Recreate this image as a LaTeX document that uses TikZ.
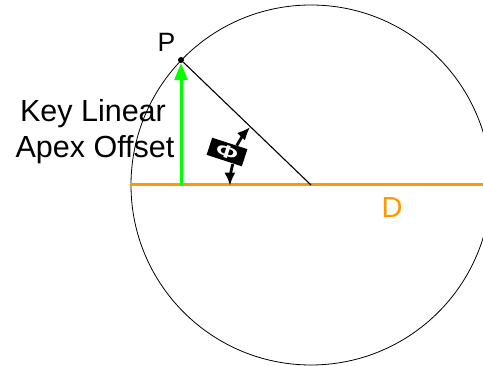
\documentclass[tikz,border=0pt]{standalone}
\usepackage{fontspec}
\usepackage{graphicx}
\setmainfont{Liberation Sans}
\usetikzlibrary{arrows.meta,calc}
\definecolor{ograng}{RGB}{255,153,0}
\definecolor{brgreen}{RGB}{0,255,0}
\begin{document}
\begin{tikzpicture}[x=1pt,y=1pt,
  lbl/.style={anchor=base,inner sep=0pt},
  anglearc/.style={line width=2.8pt,-{Latex[length=13pt,width=11pt]}}]
\useasboundingbox (0,0) rectangle (483,366);
\coordinate (O) at (311,181);
\draw[line width=0.8pt] (O) circle[radius=180];
\coordinate (Dl) at (130,181);
\coordinate (Dr) at (483,181);
\draw[ograng,line width=3pt] (Dl) -- (Dr);
\node[circle,fill=black,inner sep=0pt,minimum size=6pt] (P) at (181,306) {};
\draw[line width=1.1pt] (P) -- (O);
\coordinate (F) at (181,181);
\draw[brgreen,line width=3pt,-{Triangle[length=17pt,width=13pt]}] (F) -- (P);
\draw[anglearc] ($(O)+(152:84)$) arc[start angle=152,end angle=136.5,radius=84];
\draw[anglearc] ($(O)+(165:81)$) arc[start angle=165,end angle=180.5,radius=81];
\node[fill=black,text=white,rotate=-18,minimum width=37pt,minimum height=18pt,inner sep=0pt] (phi) at (227,214) {\scalebox{1.5}[1]{\bfseries\fontsize{18}{18}\selectfont Φ}};
\node[lbl,font=\fontsize{26.5}{26.5}\selectfont] (Plabel) at (166.5,314) {P};
\node[lbl,font=\fontsize{30.5}{30.5}\selectfont] (key1) at (93,244) {Key Linear};
\node[lbl,font=\fontsize{30.5}{30.5}\selectfont] (key2) at (95,208) {Apex Offset};
\node[lbl,text=ograng,font=\fontsize{29}{29}\selectfont] (Dlabel) at (392,148) {D};
\end{tikzpicture}
\end{document}
